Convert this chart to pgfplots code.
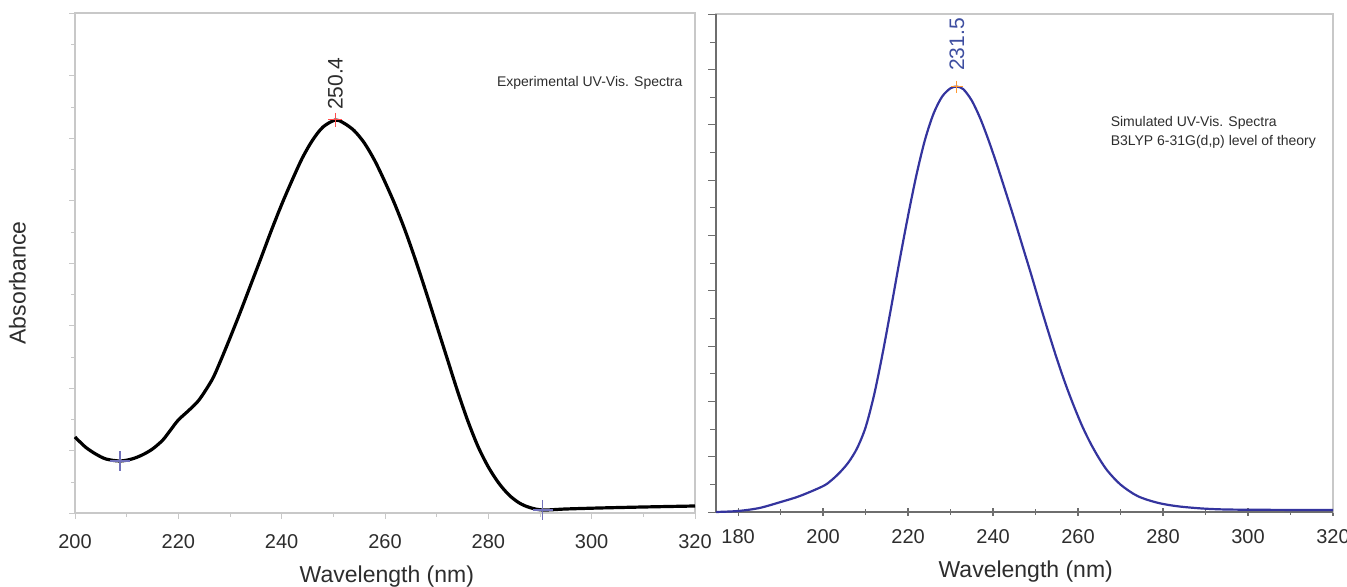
\documentclass[border=0pt]{standalone}
\usepackage{pgfplots}
\pgfplotsset{compat=1.18}
\usepackage{fontspec}
\setmainfont{Liberation Sans}
\definecolor{specblue}{RGB}{52,52,158}
\definecolor{lblblue}{RGB}{62,78,160}
\definecolor{lightax}{RGB}{200,200,200}
\definecolor{darkax}{RGB}{110,110,110}
\definecolor{ticktxt}{RGB}{45,45,45}
\begin{document}
\begin{tikzpicture}
\path[use as bounding box] (0,0) rectangle (673.5pt,293.5pt);
% ---------------- left panel: experimental ----------------
\begin{axis}[
  at={(37.5pt,37pt)}, anchor=south west,
  width=310pt, height=250pt, scale only axis,
  xmin=200, xmax=320, ymin=0, ymax=1,
  xtick={200,220,...,320}, minor xtick={210,230,...,310},
  ytick={0,0.125,...,1}, yticklabels={},
  minor ytick={0.0625,0.1875,...,1},
  tick align=outside, xtick pos=lower, ytick pos=left,
  major tick length=3pt, minor tick length=2pt,
  axis line style={lightax, line width=0.8pt},
  tick style={lightax},
  /pgf/number format/assume math mode=true,
  xticklabel style={font=\fontsize{10}{12}\selectfont, text=ticktxt, yshift=-4pt},
  xlabel={Wavelength (nm)},
  xlabel style={font=\fontsize{11.5}{13}\selectfont, text=ticktxt, at={(axis description cs:0.503,-0.128)}, anchor=center},
  ylabel={Absorbance},
  ylabel style={font=\fontsize{11.5}{13}\selectfont, text=ticktxt, at={(axis description cs:-0.093,0.46)}, anchor=center, rotate=0},
  clip=false,
]
\addplot[black, line width=1.6pt, smooth, tension=0.5] coordinates {
 (200,0.152) (202,0.132) (204,0.118) (206,0.108) (208.7,0.104) (211,0.108)
 (213,0.116) (215,0.128) (217,0.146) (218.5,0.166) (220,0.186) (222,0.205)
 (224,0.226) (226.5,0.266) (228,0.300) (230,0.350) (232,0.402) (234,0.456)
 (236,0.510) (238,0.565) (240,0.617) (242,0.665) (244,0.710) (246,0.746)
 (248,0.772) (250.4,0.786) (252,0.780) (254,0.765) (256,0.740) (258,0.705)
 (260,0.662) (262,0.615) (264,0.562) (266,0.503) (268,0.440) (270,0.375)
 (272,0.310) (274,0.245) (276,0.185) (278,0.133) (280,0.092) (282,0.060)
 (284,0.036) (286,0.020) (288,0.011) (290.5,0.006) (295,0.008)
 (301.5,0.010) (310,0.012) (320,0.014)
};
\addplot[only marks, mark=+, mark size=5pt, color=specblue!70, mark options={line width=0.6pt}] coordinates {(208.7,0.104) (290.5,0.006)};
\addplot[only marks, mark=+, mark size=3.5pt, color=red!70, mark options={line width=0.5pt}] coordinates {(250.4,0.786)};
\node[rotate=90, anchor=west, inner sep=0pt, outer sep=5pt, font=\fontsize{10.5}{12}\selectfont, text=ticktxt] at (axis cs:250.4,0.786) {250.4};
\node[anchor=west, inner sep=0pt, font=\fontsize{7}{9}\selectfont, text=ticktxt] at (axis cs:281.6,0.86) {Experimental UV-Vis. Spectra};
\end{axis}
% ---------------- right panel: simulated ----------------
\begin{axis}[
  at={(358pt,37.5pt)}, anchor=south west,
  width=308.5pt, height=249pt, scale only axis,
  xmin=174.8, xmax=320, ymin=0, ymax=1,
  xtick={180,200,...,320}, minor xtick={190,210,...,310},
  ytick={0,0.1111,...,1.01}, yticklabels={},
  minor y tick num=1,
  xtick pos=lower, ytick pos=left,
  x tick style={darkax, line width=0.6pt},
  xtick align=center, ytick align=outside,
  major tick length=4pt, minor tick length=3pt,
  axis line style={lightax, line width=0.8pt},
  y tick style={darkax},
  /pgf/number format/assume math mode=true,
  xticklabel style={font=\fontsize{10}{12}\selectfont, text=ticktxt, yshift=-3pt},
  xlabel={Wavelength (nm)},
  xlabel style={font=\fontsize{11.5}{13}\selectfont, text=ticktxt, at={(axis description cs:0.502,-0.12)}, anchor=center},
  clip=false,
]
\draw[darkax, line width=1pt] (rel axis cs:0,1) -- (rel axis cs:0,0) -- (rel axis cs:1,0);
\addplot[specblue, line width=1.1pt, smooth, tension=0.5] coordinates {
 (174.8,0.000) (180,0.002) (185,0.008) (190,0.020) (194.5,0.032) (200,0.052)
 (202,0.064) (204,0.080) (206,0.100) (208,0.128) (210,0.170) (212,0.235)
 (214,0.318) (216,0.410) (218,0.505) (220,0.595) (222,0.678) (224,0.748)
 (226,0.800) (228,0.834) (230,0.851) (231.5,0.854) (233,0.849) (235,0.826)
 (237,0.790) (239,0.745) (241,0.695) (243,0.642) (245,0.588) (247,0.532)
 (249,0.476) (251,0.418) (253,0.362) (255,0.308) (257,0.258) (259,0.213)
 (261,0.172) (263,0.137) (265,0.107) (267,0.082) (270,0.055) (274,0.032)
 (279,0.018) (285,0.010) (295,0.005) (320,0.004)
};
\addplot[only marks, mark=+, mark size=3pt, color=orange!80, mark options={line width=0.5pt}] coordinates {(231.5,0.854)};
\node[rotate=90, anchor=west, inner sep=0pt, outer sep=8pt, font=\fontsize{10.5}{12}\selectfont, text=lblblue] at (axis cs:231.5,0.854) {231.5};
\node[anchor=west, align=left, inner sep=0pt, font=\fontsize{7}{9.5}\selectfont, text=ticktxt] at (axis cs:267.6,0.762) {Simulated UV-Vis. Spectra\\B3LYP 6-31G(d,p) level of theory};
\end{axis}
\end{tikzpicture}
\end{document}
